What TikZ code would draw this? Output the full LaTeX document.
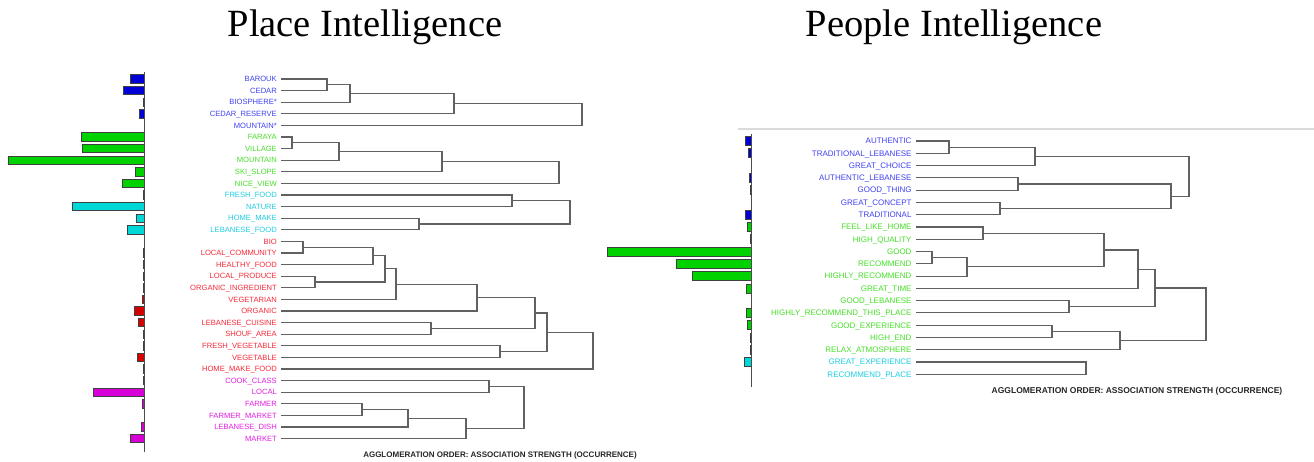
\documentclass[tikz,border=0pt]{standalone}
\usepackage{fontspec}
\setmainfont{Liberation Serif}
\setsansfont{Liberation Sans}
\usepackage{tikz}
\usepackage{xcolor}

\definecolor{lblB}{RGB}{64,64,240}
\definecolor{lblG}{RGB}{70,222,40}
\definecolor{lblC}{RGB}{30,205,225}
\definecolor{lblR}{RGB}{245,40,55}
\definecolor{lblM}{RGB}{225,30,225}
\definecolor{barB}{RGB}{0,0,215}
\definecolor{barG}{RGB}{0,210,0}
\definecolor{barC}{RGB}{0,215,215}
\definecolor{barR}{RGB}{215,0,0}
\definecolor{barM}{RGB}{215,0,215}

% bracket of a dendrogram: two members, x of the join, name of the join
\newcommand{\dmerge}[4]{%
	\draw[dlink] (#1) -| (#3,0 |- #2) -- (#2);
	\path (#1 -| #3,0) -- coordinate (#4) (#2 -| #3,0);
}

\begin{document}
\begin{tikzpicture}[x=1pt, y=-1pt,
		plbl/.style={anchor=east, inner sep=0pt, font=\sffamily\fontsize{7.6}{8}\selectfont, text height=5.4pt, text depth=0pt},
		qlbl/.style={anchor=east, inner sep=0pt, font=\sffamily\fontsize{8}{9}\selectfont, text height=5.7pt, text depth=0pt},
		bar/.style={draw=black!75, line width=0.7pt},
		dlink/.style={draw=black!62, line width=1.1pt},
		axisline/.style={draw=black!70, line width=0.8pt},
		footer/.style={font=\sffamily\bfseries, text=black!85, inner sep=0pt},
		title/.style={font=\fontsize{38.5}{40}\selectfont, anchor=base, inner sep=0pt}]
		\centering
		\useasboundingbox (0,0) rectangle (1314,462);
		
		\node[title] (ttlplace) at (365,37) {Place Intelligence};
		\node[title] (ttlpeople) at (954,37) {People Intelligence};
		
		% place terms
		\foreach \name/\c/\bx [count=\i, evaluate=\i as \y using 79+11.6*(\i-1)] in {
			BAROUK/B/130, CEDAR/B/123, BIOSPHERE*/B/143.3, CEDAR\_RESERVE/B/139.7, MOUNTAIN*/B/144.3,
			FARAYA/G/81, VILLAGE/G/82.7, MOUNTAIN/G/8.3, SKI\_SLOPE/G/135, NICE\_VIEW/G/122,
			FRESH\_FOOD/C/143.3, NATURE/C/72.3, HOME\_MAKE/C/136.3, LEBANESE\_FOOD/C/127,
			BIO/R/144.3, LOCAL\_COMMUNITY/R/143.6, HEALTHY\_FOOD/R/143, LOCAL\_PRODUCE/R/143.6,
			ORGANIC\_INGREDIENT/R/143.6, VEGETARIAN/R/142, ORGANIC/R/134.3, LEBANESE\_CUISINE/R/138,
			SHOUF\_AREA/R/143.6, FRESH\_VEGETABLE/R/143, VEGETABLE/R/137.3, HOME\_MAKE\_FOOD/R/143.6,
			COOK\_CLASS/M/143.6, LOCAL/M/93.7, FARMER/M/142, FARMER\_MARKET/M/144.3,
			LEBANESE\_DISH/M/141, MARKET/M/130.3} {
			\node[plbl, text=lbl\c] (P\i) at (277,\y) {\name};
			\coordinate (p\i) at ([xshift=4pt]P\i.east);
			\draw[bar, fill=bar\c] (\bx,\y-4.2) rectangle (144.3,\y+4.2);
		}
		\draw[axisline] (144.3,72) -- (144.3,452);
		
		\dmerge{p1}{p2}{327}{m1}
		\dmerge{m1}{p3}{350}{m2}
		\dmerge{m2}{p4}{454}{m3}
		\dmerge{m3}{p5}{582}{m4}
		\dmerge{p6}{p7}{292}{m5}
		\dmerge{m5}{p8}{339}{m6}
		\dmerge{m6}{p9}{442}{m7}
		\dmerge{m7}{p10}{559}{m8}
		\dmerge{p11}{p12}{512}{m9}
		\dmerge{p13}{p14}{419}{m10}
		\dmerge{m9}{m10}{570}{m11}
		\dmerge{p15}{p16}{303}{m12}
		\dmerge{m12}{p17}{373}{m13}
		\dmerge{p18}{p19}{315}{m14}
		\dmerge{m13}{m14}{385}{m15}
		\dmerge{m15}{p20}{396}{m16}
		\dmerge{m16}{p21}{477}{m17}
		\dmerge{p22}{p23}{431}{m18}
		\dmerge{m17}{m18}{535}{m19}
		\dmerge{p24}{p25}{500}{m20}
		\dmerge{m19}{m20}{547}{m21}
		\dmerge{m21}{p26}{593}{m22}
		\dmerge{p27}{p28}{489}{m23}
		\dmerge{p29}{p30}{362}{m24}
		\dmerge{m24}{p31}{408}{m25}
		\dmerge{m25}{p32}{466}{m26}
		\dmerge{m23}{m26}{524}{m27}
		
		\node[footer, font=\sffamily\bfseries\fontsize{8}{9}\selectfont] (pfoot) at (500,455) {AGGLOMERATION ORDER: ASSOCIATION STRENGTH (OCCURRENCE)};
		
		% people terms
		\draw[draw=black!14, line width=1.2pt] (738,129) -- (1314,129);
		\foreach \name/\c/\bx [count=\i, evaluate=\i as \y using 141+12.28*(\i-1)] in {
			AUTHENTIC/B/745, TRADITIONAL\_LEBANESE/B/748.7, GREAT\_CHOICE/B/751.7,
			AUTHENTIC\_LEBANESE/B/749.3, GOOD\_THING/B/750.6, GREAT\_CONCEPT/B/751.7, TRADITIONAL/B/745,
			FEEL\_LIKE\_HOME/G/747, HIGH\_QUALITY/G/750, GOOD/G/607.7, RECOMMEND/G/676.3,
			HIGHLY\_RECOMMEND/G/692.3, GREAT\_TIME/G/746.7, GOOD\_LEBANESE/G/751.7,
			HIGHLY\_RECOMMEND\_THIS\_PLACE/G/746, GOOD\_EXPERIENCE/G/747.7, HIGH\_END/G/750.6,
			RELAX\_ATMOSPHERE/G/750.6, GREAT\_EXPERIENCE/C/744.7, RECOMMEND\_PLACE/C/751.7} {
			\node[qlbl, text=lbl\c] (Q\i) at (911.7,\y) {\name};
			\coordinate (q\i) at ([xshift=4.3pt]Q\i.east);
			\draw[bar, fill=bar\c] (\bx,\y-4.5) rectangle (751.7,\y+4.5);
		}
		\draw[axisline] (751.7,134) -- (751.7,387);
		
		\dmerge{q1}{q2}{949}{n1}
		\dmerge{n1}{q3}{1035}{n2}
		\dmerge{q4}{q5}{1018}{n3}
		\dmerge{q6}{q7}{1000}{n4}
		\dmerge{n3}{n4}{1171}{n5}
		\dmerge{n2}{n5}{1189}{n6}
		\dmerge{q8}{q9}{983}{n7}
		\dmerge{q10}{q11}{932}{n8}
		\dmerge{n8}{q12}{967}{n9}
		\dmerge{n7}{n9}{1104}{n10}
		\dmerge{n10}{q13}{1138}{n11}
		\dmerge{q14}{q15}{1069}{n12}
		\dmerge{n11}{n12}{1155}{n13}
		\dmerge{q16}{q17}{1052}{n14}
		\dmerge{n14}{q18}{1120}{n15}
		\dmerge{n13}{n15}{1206}{n16}
		\dmerge{q19}{q20}{1086}{n17}
		
		\node[footer, font=\sffamily\bfseries\fontsize{8.5}{9}\selectfont] (qfoot) at (1137,391.7) {AGGLOMERATION ORDER: ASSOCIATION STRENGTH (OCCURRENCE)};
		
	\end{tikzpicture}
\end{document}
